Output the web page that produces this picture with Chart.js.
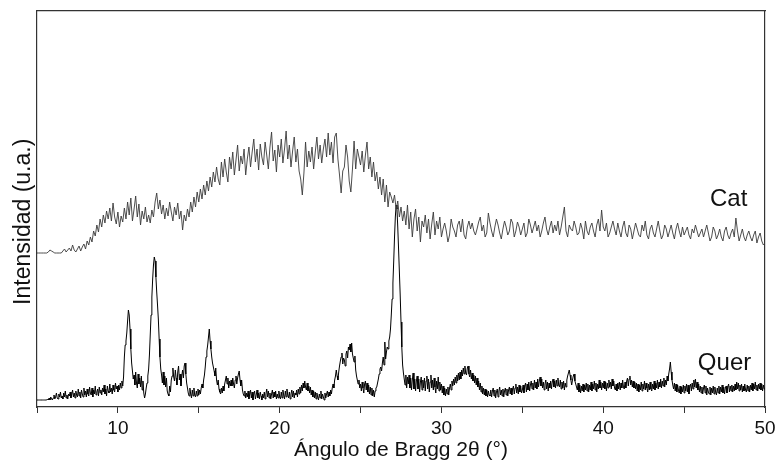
<!DOCTYPE html>
<html><head><meta charset="utf-8">
<script src="https://cdn.jsdelivr.net/npm/chart.js@4.4.1/dist/chart.umd.min.js"></script>
<style>html,body{margin:0;padding:0;background:#fff;}#wrap{width:775px;height:461px;}</style>
</head><body><div id="wrap"><canvas id="c" width="775" height="461"></canvas></div>
<script>
// ---- data ----
const seriesNames = ['Cat', 'Quer'];
const majorTicks = [10, 20, 30, 40, 50];
const xTitle = 'Ángulo de Bragg 2θ (°)';
const yTitle = 'Intensidad (u.a.)';

// Cat: 2θ from 5.0 to 50.0, step 0.1
const catStart = 5.0, catStep = 0.1;
const cat05 = [
154,154,154,154,154,154,154,155,157,156,
155,154,154,154,154,154,156,158,155,157,
159,156,162,157,155,158,161,156,160,163,
158,166,162,170,165,176,171,182,175,188,
180,192,184,196,188,199,186,204,190,183];
const cat10 = [
195,180,191,185,199,188,205,192,209,186,
198,211,190,203,182,196,188,200,185,192,
184,197,190,205,214,198,207,193,202,188,
199,191,205,195,186,200,192,204,188,196,
177,192,186,198,190,205,195,210,200,215];
const cat15 = [
205,218,208,222,212,226,216,230,220,235,
225,240,228,222,245,230,248,235,225,250,
238,255,232,247,262,236,251,243,258,232,
248,260,240,255,268,245,258,237,263,250,
242,265,252,238,260,275,246,257,235,262];
const cat20 = [
250,268,244,258,276,248,262,240,256,270,
245,258,236,228,212,234,265,240,256,245,
260,238,255,270,248,262,244,258,268,250,
274,252,265,244,270,274,248,232,214,236,
240,262,250,226,215,238,266,238,258,250];
const cat25 = [
242,256,235,252,265,238,250,230,245,226,
235,218,230,212,228,205,222,200,215,210,
204,212,198,206,190,200,186,196,182,202,
178,195,170,188,198,176,190,165,186,180,
192,174,188,168,183,195,172,186,178,190];
const cat30 = [
170,178,184,176,165,172,188,180,176,170,
182,186,175,188,172,168,180,186,178,184,
176,172,178,185,190,176,182,170,174,194,
184,176,170,180,188,182,174,168,178,186,
180,172,176,188,184,170,176,185,180,172];
const cat35 = [
178,184,170,174,188,182,174,180,186,176,
182,170,176,184,190,178,172,180,186,174,
182,176,186,172,180,190,200,176,170,182,
178,176,186,180,172,174,184,178,168,186,
176,172,180,184,176,170,182,188,176,197];
const cat40 = [
180,176,184,170,174,180,186,178,172,184,
176,170,180,186,174,170,182,178,168,176,
184,178,172,170,182,176,186,172,168,178,
182,174,170,178,186,176,168,172,182,178,
170,176,182,174,168,178,184,176,170,180];
const cat45 = [
172,176,180,172,168,178,174,182,176,170,
174,178,170,176,182,174,166,170,180,176,
168,172,178,170,166,176,180,172,168,174,
178,170,189,176,166,172,178,170,166,172,
176,170,166,172,176,164,170,174,166,162,
164];
const catIntensity = [].concat(cat05, cat10, cat15, cat20, cat25, cat30, cat35, cat40, cat45);

// Quer: 2θ from 5.00 to 50.00, step 0.05
const querStart = 5.0, querStep = 0.05;
const quer05 = [
7,7,7,7,7,7,7,7,7,7,7,7,7,8,7,9,7,10,8,7,
9,12,8,10,14,9,8,13,10,15,9,11,8,14,10,16,9,12,8,13,
11,15,9,13,17,10,14,9,16,12,10,18,11,15,9,17,13,10,19,12,
16,10,18,13,11,20,14,12,19,10,17,13,21,12,15,18,11,20,14,17,
12,19,15,22,13,18,11,21,16,14,23,15,19,13,22,17,15,24,18,21];
const quer10 = [
15,22,17,24,19,26,21,30,50,62,66,74,86,97,92,78,58,44,36,28,
32,22,35,24,19,33,23,29,20,31,17,26,14,9,13,19,24,31,38,52,
72,92,110,128,142,150,146,130,115,102,88,68,50,38,32,24,35,22,31,20,
29,16,13,11,21,15,27,31,39,30,26,37,29,22,35,41,27,33,21,31,
37,29,41,44,33,24,19,14,11,19,13,9,17,11,19,12,10,16,11,18];
const quer15 = [
12,17,13,19,23,19,27,32,40,50,56,62,70,78,66,58,50,44,40,36,
31,39,27,22,27,18,15,13,19,14,21,16,23,27,31,23,29,19,26,21,
27,21,29,23,19,27,31,23,29,33,36,27,21,27,17,13,11,16,9,14,
10,16,8,13,17,9,15,7,13,16,8,12,17,9,14,8,15,11,7,13,
9,15,8,13,18,10,16,9,14,8,13,17,9,15,10,16,8,13,9,16];
const quer20 = [
10,8,15,9,17,12,8,16,10,18,12,9,15,8,13,17,10,16,9,14,
12,17,10,18,13,20,14,22,16,24,19,26,20,17,24,16,21,14,20,12,
17,10,16,9,15,8,14,10,7,13,9,16,8,13,10,7,14,9,13,16,
10,15,11,17,13,19,23,19,27,31,37,31,27,35,41,46,50,54,43,49,
47,41,53,56,49,60,57,63,55,64,53,49,45,51,37,31,27,23,27,19];
const quer25 = [
23,16,25,19,14,23,26,17,24,15,22,13,20,12,19,11,17,10,16,19,
20,24,28,33,38,40,36,44,50,42,65,48,55,60,58,66,70,78,92,108,
124,146,170,190,202,198,180,158,135,112,85,60,42,34,28,22,32,19,30,23,
32,19,29,17,27,34,18,28,16,26,31,18,28,15,25,30,17,27,19,29,
16,26,31,18,28,15,25,32,19,27,17,29,20,14,26,18,30,16,25,17];
const quer30 = [
23,14,21,12,19,11,18,13,20,12,19,23,17,26,21,28,22,30,24,32,
26,34,27,35,28,37,31,39,33,41,34,32,39,41,33,30,37,28,34,26,
32,24,31,22,29,20,26,17,24,15,21,13,19,12,18,11,17,10,16,12,
11,17,10,16,19,11,17,9,15,18,10,16,20,12,17,11,18,10,16,19,
12,18,11,17,20,13,19,12,18,21,13,19,23,14,20,13,22,15,21,14];
const quer35 = [
17,22,14,21,24,15,23,17,25,16,22,26,18,24,17,27,19,25,18,28,
20,26,30,21,28,19,25,17,23,27,18,25,16,24,19,26,18,25,28,20,
26,19,27,21,29,22,20,27,18,25,19,26,17,24,20,27,31,34,37,32,
27,22,27,31,33,26,23,20,17,24,15,22,14,21,16,23,15,22,17,24,
16,23,15,22,17,25,16,23,18,26,17,24,15,23,18,27,19,25,17,24];
const quer40 = [
19,26,18,25,16,24,19,27,20,25,18,28,21,26,19,17,23,16,24,18,
25,17,24,19,27,20,18,25,19,26,29,21,28,31,22,27,20,26,19,25,
18,24,16,23,15,22,17,25,16,23,18,26,17,24,19,15,23,17,25,18,
16,23,18,26,17,24,19,27,18,25,20,28,19,26,21,29,20,27,22,31,
26,33,38,45,35,27,22,18,24,16,23,15,22,17,14,21,13,20,15,22];
const quer45 = [
14,21,16,23,15,22,13,20,23,16,24,18,27,20,28,19,25,17,23,15,
21,14,20,13,19,22,14,21,12,19,15,13,20,12,19,14,21,13,20,15,
12,19,14,21,13,20,15,22,14,20,13,19,21,14,20,23,15,21,16,22,
15,21,16,23,17,25,18,24,16,22,17,23,15,21,16,23,17,15,22,16,
21,15,22,17,24,16,23,18,25,17,22,16,23,18,24,17,23,16,22,18,
18];
const querIntensity = [].concat(quer05, quer10, quer15, quer20, quer25, quer30, quer35, quer40, quer45);

// ---- chart ----
const FONT = '"Liberation Sans", Arial, sans-serif';
const toPoints = (vals, start, step) => vals.map((v, i) => ({ x: Math.round((start + i * step) * 100) / 100, y: v }));

const seriesLabelPlugin = {
  id: 'seriesLabels',
  afterDatasetsDraw(chart, args, opts) {
    const { ctx, scales: { x, y } } = chart;
    ctx.save();
    ctx.font = opts.font;
    ctx.fillStyle = opts.color;
    ctx.textAlign = 'left';
    ctx.textBaseline = 'alphabetic';
    opts.items.forEach(it => ctx.fillText(it.text, x.getPixelForValue(it.x), y.getPixelForValue(it.y)));
    ctx.restore();
  }
};

const frameBorder = { display: true, color: '#333', width: 1.2 };

new Chart(document.getElementById('c'), {
  type: 'line',
  data: {
    datasets: [
      { label: seriesNames[0], data: toPoints(catIntensity, catStart, catStep), borderColor: '#3a3a3a', borderWidth: 0.9, xAxisID: 'x', yAxisID: 'y' },
      { label: seriesNames[1], data: toPoints(querIntensity, querStart, querStep), borderColor: '#000', borderWidth: 1, xAxisID: 'x', yAxisID: 'y' }
    ]
  },
  options: {
    responsive: false,
    animation: false,
    devicePixelRatio: 1,
    elements: { point: { radius: 0 }, line: { tension: 0, borderJoinStyle: 'round' } },
    layout: { padding: { top: 11, right: 10, left: 0, bottom: 0 } },
    plugins: {
      legend: { display: false },
      tooltip: { enabled: false },
      seriesLabels: {
        font: '24px ' + FONT,
        color: '#111',
        items: [
          { text: seriesNames[0], x: 46.6, y: 201 },
          { text: seriesNames[1], x: 45.85, y: 37 }
        ]
      }
    },
    scales: {
      x: {
        type: 'linear', position: 'bottom', min: 5, max: 50,
        ticks: {
          stepSize: 5, autoSkip: false, maxRotation: 0, minRotation: 0,
          callback: v => majorTicks.includes(v) ? String(v) : '',
          font: { family: FONT, size: 19 }, color: '#111', padding: 4
        },
        grid: { drawOnChartArea: false, drawTicks: true, tickLength: 6, color: '#333', lineWidth: 1 },
        border: frameBorder,
        title: { display: true, text: xTitle, font: { family: FONT, size: 21, lineHeight: 1 }, color: '#111', padding: { top: 0, bottom: 0 } },
        afterFit(s) { s.height = 54; s.paddingLeft = 0; s.paddingRight = 0; }
      },
      y: {
        type: 'linear', position: 'left', min: 0, max: 396,
        ticks: { display: false },
        grid: { display: false },
        border: frameBorder,
        title: { display: true, text: yTitle + '    ', font: { family: FONT, size: 23, lineHeight: 1 }, color: '#111', padding: { top: 12, bottom: 0 } },
        afterFit(s) { s.width = 37; }
      },
      xTop: {
        type: 'linear', position: 'top', min: 5, max: 50,
        ticks: { display: false }, grid: { display: false }, border: frameBorder,
        afterFit(s) { s.height = 0; }
      },
      yRight: {
        type: 'linear', position: 'right', min: 0, max: 396,
        ticks: { display: false }, grid: { display: false }, border: frameBorder,
        afterFit(s) { s.width = 0; }
      }
    }
  },
  plugins: [seriesLabelPlugin]
});
</script>
</body></html>
